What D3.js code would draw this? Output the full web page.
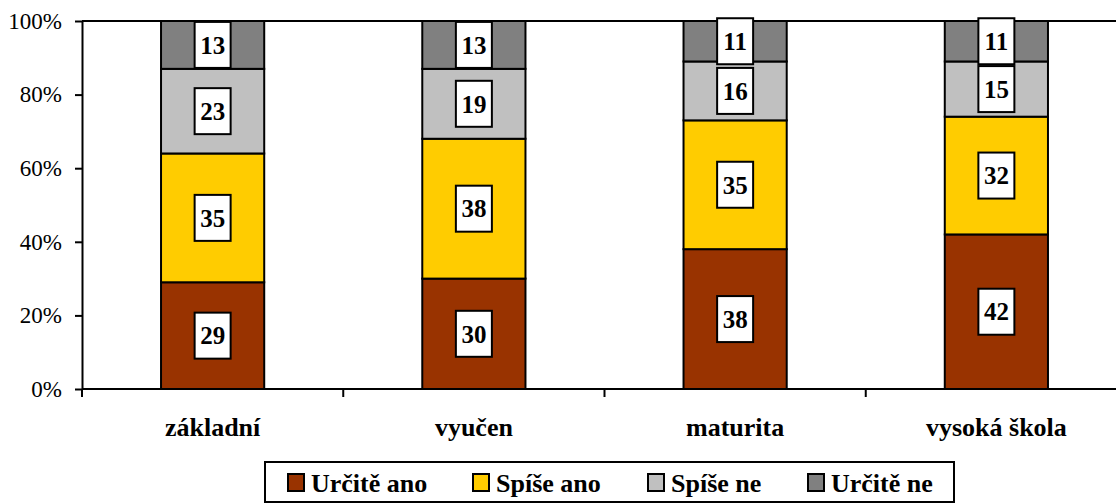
<!DOCTYPE html>
<html><head><meta charset="utf-8">
<script src="https://cdn.jsdelivr.net/npm/d3@7"></script>
<style>body{margin:0;background:#fff}svg{display:block}
svg text{font-family:"Liberation Serif","Times New Roman",Tinos,serif !important;}</style>
</head><body>
<svg id="c" width="1116" height="504"></svg>
<script>
const categories = ["základní", "vyučen", "maturita", "vysoká škola"];
const seriesNames = ["Určitě ano", "Spíše ano", "Spíše ne", "Určitě ne"];
const urciteAno = [29, 30, 38, 42];
const spiseAno = [35, 38, 35, 32];
const spiseNe = [23, 19, 16, 15];
const urciteNe = [13, 13, 11, 11];
const colors = ["#993300", "#FFCC00", "#C0C0C0", "#808080"];
const yTicks = [0, 20, 40, 60, 80, 100];

const series = [urciteAno, spiseAno, spiseNe, urciteNe];
const rows = categories.map((c, i) => {
  const r = {cat: c};
  seriesNames.forEach((s, j) => r[s] = series[j][i]);
  return r;
});
const stacked = d3.stack().keys(seriesNames)(rows);

const svg = d3.select("#c");
const x = d3.scaleBand().domain(categories).range([82, 1127]).padding(0);
const y = d3.scaleLinear().domain([0, 100]).range([389, 21]);
const bw = x.bandwidth() * 0.395;

svg.append("line").attr("x1", 82).attr("x2", 1116).attr("y1", y(100)).attr("y2", y(100))
  .attr("stroke", "#000").attr("stroke-width", 2);

stacked.forEach((s, j) => {
  svg.append("g").selectAll("rect").data(s).join("rect")
    .attr("x", d => x(d.data.cat) + x.bandwidth() / 2 - bw / 2)
    .attr("width", bw)
    .attr("y", d => y(d[1]))
    .attr("height", d => y(d[0]) - y(d[1]))
    .attr("fill", colors[j]).attr("stroke", "#000").attr("stroke-width", 2);
});

stacked.forEach((s, j) => {
  const g = svg.append("g");
  s.forEach(d => {
    const cx = x(d.data.cat) + x.bandwidth() / 2;
    const cy = (y(d[0]) + y(d[1])) / 2;
    g.append("rect").attr("x", cx - 18).attr("y", cy - 23).attr("width", 36).attr("height", 46)
      .attr("fill", "#fff").attr("stroke", "#000").attr("stroke-width", 2);
    g.append("text").attr("x", cx).attr("y", cy).attr("dy", "0.35em")
      .attr("text-anchor", "middle").attr("font-weight", "bold")
      .attr("font-size", 25).attr("fill", "#000").text(d.data[seriesNames[j]]);
  });
});

const yAxis = svg.append("g").attr("transform", "translate(82,0)")
  .call(d3.axisLeft(y).tickValues(yTicks).tickFormat(d => d + "%").tickSizeInner(7).tickSizeOuter(0).tickPadding(13));
yAxis.select(".domain").attr("stroke-width", 2);
yAxis.selectAll(".tick line").attr("stroke-width", 2);
yAxis.selectAll("text").attr("font-size", 23).attr("fill", "#000");

const xAxis = svg.append("g").attr("transform", "translate(0,389)")
  .call(d3.axisBottom(x).tickSize(0).tickPadding(29));
xAxis.select(".domain").remove();
xAxis.append("line").attr("x1", 82).attr("x2", 1116).attr("stroke", "#000").attr("stroke-width", 2);
xAxis.selectAll("text").attr("font-weight", "bold").attr("font-size", 26).attr("fill", "#000");
const bounds = categories.map(c => x(c));
xAxis.selectAll(".sep").data(bounds).join("line").attr("class", "sep")
  .attr("x1", d => d).attr("x2", d => d).attr("y1", 0).attr("y2", 8)
  .attr("stroke", "#000").attr("stroke-width", 2);

const lg = svg.append("g");
lg.append("rect").attr("x", 265).attr("y", 462).attr("width", 689).attr("height", 40)
  .attr("fill", "#fff").attr("stroke", "#000").attr("stroke-width", 2);
const lx = [288, 473, 648, 808];
seriesNames.forEach((s, j) => {
  lg.append("rect").attr("x", lx[j]).attr("y", 474).attr("width", 16).attr("height", 17)
    .attr("fill", colors[j]).attr("stroke", "#000").attr("stroke-width", 2);
  lg.append("text").attr("x", lx[j] + 23).attr("y", 492)
    .attr("font-weight", "bold").attr("font-size", 26).attr("fill", "#000").text(s);
});
</script>
</body></html>
